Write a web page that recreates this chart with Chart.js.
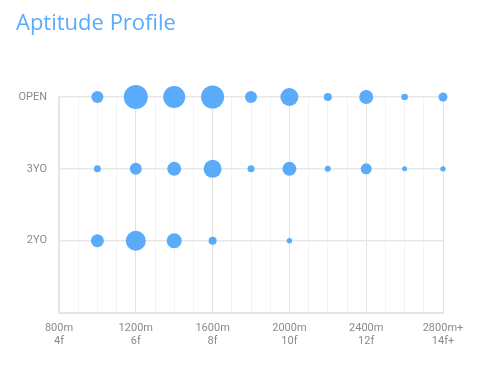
<!DOCTYPE html>
<html>
<head>
<meta charset="utf-8">
<script src="https://cdn.jsdelivr.net/npm/chart.js@4/dist/chart.umd.min.js"></script>
<style>
  html, body { margin: 0; padding: 0; background: #fff; }
  #wrap { position: relative; width: 486px; height: 369px; }
  #title { position: absolute; left: 16px; top: 6px; font-family: "Open Sans", sans-serif; font-size: 22px; color: #5aabfa; margin: 0; font-weight: 400; }
  canvas { position: absolute; left: 0; top: 0; }
</style>
</head>
<body>
<div id="wrap">
  <canvas id="c" width="486" height="369"></canvas>
  <h1 id="title">Aptitude Profile</h1>
</div>
<script>
const categories = ['2YO', '3YO', 'OPEN'];
const distances = [1000, 1200, 1400, 1600, 1800, 2000, 2200, 2400, 2600, 2800];
const openRadius = [6, 12, 11, 11.5, 6, 9, 4, 7, 3.3, 4.5];
const threeYoRadius = [3.5, 6, 7, 9, 3.5, 7, 3, 5.5, 2.5, 2.7];
const twoYoDistances = [1000, 1200, 1400, 1600, 2000];
const twoYoRadius = [6.5, 10, 7.5, 4, 2.7];
const majorDistances = [800, 1200, 1600, 2000, 2400, 2800];
const metreLabels = ['800m', '1200m', '1600m', '2000m', '2400m', '2800m+'];
const furlongLabels = ['4f', '6f', '8f', '10f', '12f', '14f+'];

const BLUE = '#5aabfa';
function row(dists, radii, level) {
  return dists.map((d, i) => ({ x: d, y: level, r: radii[i] }));
}

new Chart(document.getElementById('c'), {
  type: 'bubble',
  data: {
    datasets: [
      { label: 'OPEN', data: row(distances, openRadius, 3) },
      { label: '3YO', data: row(distances, threeYoRadius, 2) },
      { label: '2YO', data: row(twoYoDistances, twoYoRadius, 1) }
    ].map(ds => Object.assign(ds, { backgroundColor: BLUE, borderWidth: 0, hoverBorderWidth: 0, clip: false }))
  },
  options: {
    responsive: false,
    animation: false,
    events: [],
    layout: { padding: { left: 0, right: 43, top: 97, bottom: 12 } },
    plugins: { legend: { display: false }, tooltip: { enabled: false }, title: { display: false } },
    scales: {
      x: {
        type: 'linear', min: 800, max: 2800,
        afterBuildTicks: s => { s.ticks = []; for (let v = 800; v <= 2800; v += 100) s.ticks.push({ value: v }); },
        ticks: {
          autoSkip: false, maxRotation: 0, padding: 9,
          color: '#8a8a8a', font: { family: 'Roboto', size: 11 },
          callback: v => { const i = majorDistances.indexOf(v); return i < 0 ? '' : [metreLabels[i], furlongLabels[i]]; }
        },
        grid: {
          drawTicks: false,
          color: ctx => (ctx.tick && majorDistances.includes(ctx.tick.value)) ? '#e2e2e2' : '#f3f3f3',
          lineWidth: 1
        },
        border: { color: '#e6e6e6', width: 2 }
      },
      y: {
        type: 'linear', min: 0, max: 3,
        afterFit: s => { s.width = 59; },
        afterBuildTicks: s => { s.ticks = [0, 1, 2, 3].map(v => ({ value: v })); },
        ticks: {
          padding: 12, color: '#8a8a8a', font: { family: 'Roboto', size: 11 },
          callback: v => v >= 1 ? categories[v - 1] : ''
        },
        grid: { drawTicks: false, color: '#e8e8e8', lineWidth: 1.5 },
        border: { color: '#e6e6e6', width: 2 }
      }
    }
  }
});
</script>
</body>
</html>
